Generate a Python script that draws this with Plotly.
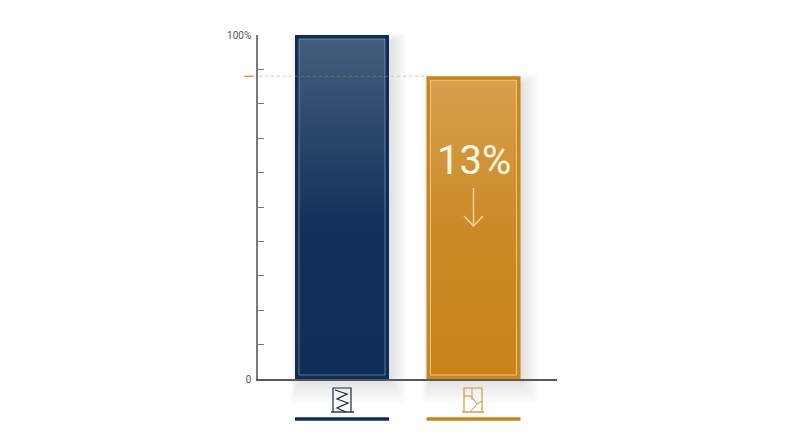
import plotly.graph_objects as go

# chart data
bar_names = ["Before", "After"]
bar_values = [100, 88]
bar_x = [0, 1]
reduction_label = "13%"
tick_vals = [0, 10, 20, 30, 40, 50, 60, 70, 80, 90, 100]
tick_text = ["0", "", "", "", "", "", "", "", "", "", "100%"]

NAVY = "#0f2d57"
GOLD = "#c9851e"
bar_colors = [NAVY, GOLD]
inner_lines = ["rgba(190,205,225,0.45)", "rgba(250,225,175,0.7)"]
gradients = [
    [[0, "#0f2d57"], [0.45, "#12315b"], [1, "#435d7c"]],
    [[0, "#c8831a"], [0.5, "#cb8a26"], [1, "#d89f4d"]],
]

W, H = 800, 447
L, R, T, B = 258, 243, 35, 68
PLOT_W = W - L - R
PLOT_H = H - T - B
X_STEP = 131.5  # pixels from one bar to the next
X0_PX = 342
BAR_W = 94 / X_STEP
x_range = [(L - X0_PX) / X_STEP, (W - R - X0_PX) / X_STEP]


def px_x(px):
    return (px - L) / PLOT_W


def px_y(py):
    return (H - B - py) / PLOT_H


def data_px_x(v):
    return X0_PX + v * X_STEP


def data_px_y(v):
    return H - B - v / 100 * PLOT_H


def line_shape(x0, y0, x1, y1, color, width=1, dash=None, layer="above"):
    return dict(
        type="line", xref="paper", yref="paper",
        x0=px_x(x0), y0=px_y(y0), x1=px_x(x1), y1=px_y(y1),
        line=dict(color=color, width=width, dash=dash), layer=layer,
    )


def polyline(points, color, width=1):
    path = "M " + " L ".join(f"{px_x(a):.5f},{px_y(b):.5f}" for a, b in points)
    return dict(type="path", xref="paper", yref="paper", path=path,
                line=dict(color=color, width=width), layer="above")


shapes = []

# soft shadow behind each bar, drawn before anything else
for x, v in zip(bar_x, bar_values):
    left = data_px_x(x) - BAR_W * X_STEP / 2
    right = data_px_x(x) + BAR_W * X_STEP / 2
    top = data_px_y(v)
    for k in range(1, 11):
        shapes.append(dict(
            type="rect", xref="paper", yref="paper", layer="below",
            x0=px_x(left + 5 - k * 0.9), x1=px_x(right + k * 1.7),
            y0=px_y(top + 8 - k), y1=px_y(H - B + k * 2.4),
            fillcolor="rgba(70,70,70,0.016)", line=dict(width=0),
        ))

# inner outline of each bar
for x, v, c in zip(bar_x, bar_values, inner_lines):
    left = data_px_x(x) - BAR_W * X_STEP / 2
    right = data_px_x(x) + BAR_W * X_STEP / 2
    top = data_px_y(v)
    shapes.append(dict(
        type="rect", xref="paper", yref="paper", layer="above",
        x0=px_x(left + 4), x1=px_x(right - 4),
        y0=px_y(H - B - 4), y1=px_y(top + 4),
        line=dict(color=c, width=1),
    ))

# reference line at the level of the second bar
ref_y = data_px_y(bar_values[1])
shapes.append(line_shape(259, ref_y, 430, ref_y, "rgba(190,150,70,0.8)", 0.6, "dot"))
shapes.append(line_shape(244, ref_y, 254, ref_y, "#d6a24a", 1.4))

# arrow inside the gold bar
arrow_x = data_px_x(bar_x[1])
ARROW = "#f6d9ab"
shapes.append(line_shape(arrow_x, 188, arrow_x, 226, ARROW, 1.4))
shapes.append(polyline([(arrow_x - 9.5, 216), (arrow_x, 226), (arrow_x + 9.5, 216)], ARROW, 1.4))

# icon under the navy bar
ICON_A = "#1d2b45"
shapes.append(polyline([(333, 412), (333, 388), (351, 388), (351, 412)], ICON_A, 1.2))
shapes.append(line_shape(331, 412, 354, 412, ICON_A, 1.4))
shapes.append(polyline([(335, 390), (347, 394), (337, 399), (348, 403), (337, 408), (346, 412)], ICON_A, 1.3))

# icon under the gold bar
ICON_B = "#cf9a3f"
shapes.append(polyline([(464, 412), (464, 388), (482, 388), (482, 412)], ICON_B, 1.2))
shapes.append(line_shape(462, 412, 484, 412, ICON_B, 1.4))
shapes.append(polyline([(472, 388), (472, 400)], ICON_B, 1))
shapes.append(polyline([(464, 396), (471, 396), (477, 404), (470, 412)], ICON_B, 1))
shapes.append(polyline([(477, 404), (482, 401)], ICON_B, 1))

# coloured rule under each icon
for x, c in zip(bar_x, bar_colors):
    left = data_px_x(x) - BAR_W * X_STEP / 2
    right = data_px_x(x) + BAR_W * X_STEP / 2
    shapes.append(line_shape(left, 419, right, 419, c, 3.5))

fig = go.Figure()

fig.add_trace(go.Bar(
    x=bar_x, y=bar_values, width=BAR_W, hovertext=bar_names,
    marker=dict(color=bar_colors, line=dict(width=0)), cliponaxis=False,
))

# gradient panel inside each bar
pad_x = 4 / X_STEP
pad_y = 4 / PLOT_H * 100
for x, v, scale in zip(bar_x, bar_values, gradients):
    x0 = x - BAR_W / 2 + pad_x
    x1 = x + BAR_W / 2 - pad_x
    y1 = v - pad_y
    fig.add_trace(go.Scatter(
        x=[x0, x1, x1, x0, x0], y=[pad_y, pad_y, y1, y1, pad_y],
        mode="lines", fill="toself", line=dict(width=0),
        fillgradient=dict(type="vertical", colorscale=scale, start=pad_y, stop=y1),
        hoverinfo="skip",
    ))

fig.add_annotation(
    x=bar_x[1], y=px_y(160), xref="x", yref="paper",
    text=reduction_label, showarrow=False,
    font=dict(family="Roboto", size=40, weight=400, color="#fff6e6"),
)

fig.update_layout(
    width=W, height=H, autosize=False, showlegend=False,
    margin=dict(l=L, r=R, t=T, b=B, pad=0),
    paper_bgcolor="white", plot_bgcolor="rgba(0,0,0,0)",
    font=dict(family="Roboto", color="#555555"),
    shapes=shapes,
    xaxis=dict(range=x_range, showgrid=False, zeroline=False, showticklabels=False,
               ticks="", showline=True, linecolor="#55585c", linewidth=1.5),
    yaxis=dict(range=[0, 100], tickmode="array", tickvals=tick_vals, ticktext=tick_text,
               ticks="inside", ticklen=6, tickcolor="#77797c", tickwidth=1.2,
               showgrid=False, zeroline=False, showline=True,
               linecolor="#77797c", linewidth=1.5,
               tickfont=dict(size=10, color="#555555"), ticklabelstandoff=3),
)

# the page's default body margin would push the chart 8px off
fig.write_html("out.html", config={"displayModeBar": False},
               post_script="document.body.style.margin = '0';")
